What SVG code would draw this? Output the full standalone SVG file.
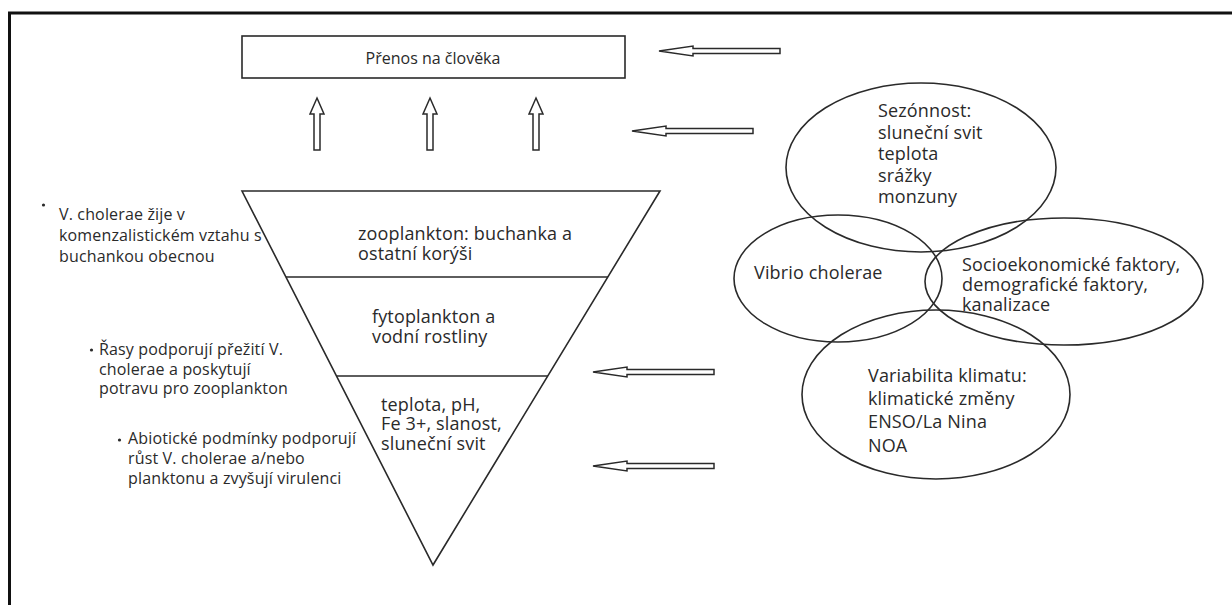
<svg xmlns="http://www.w3.org/2000/svg" xmlns:xlink="http://www.w3.org/1999/xlink" width="1232" height="605" viewBox="0 0 1232 605">
<style>
text{font-family:"Open Sans","Noto Sans","Liberation Sans",sans-serif;fill:#2a2a2a}
.big{font-size:18px;letter-spacing:0.15px}
.bul{font-size:16px;letter-spacing:0.15px}
.box{font-size:16px}
.shape{fill:none;stroke:#2a2a2a;stroke-width:1.6}
.arrow{fill:#fff;stroke:#2a2a2a;stroke-width:1.5;stroke-linejoin:miter}
</style>
<defs>
<path id="larr" d="M0,0 L34,-5 L34,-2.5 L121,-2.5 L121,2.5 L34,2.5 L34,5 Z"/>
<path id="uarr" d="M0,0 L7,16 L3,16 L3,52 L-3,52 L-3,16 L-7,16 Z"/>
</defs>
<rect width="1232" height="605" fill="#fff"/>
<g id="frame">
<path d="M8,13 H1232 M9.5,13 V605" fill="none" stroke="#111" stroke-width="3"/>
</g>
<g id="node-prenos">
<rect x="242" y="36" width="383" height="42" class="shape"/>
<text class="box" x="433" y="64" text-anchor="middle">Přenos na člověka</text>
</g>
<g id="node-pyramid">
<path d="M242,191 L660,191 L433,565 Z" class="shape"/>
<path d="M286,277 L608,277 M336.5,376 L548,376" class="shape"/>
<text class="big" x="358" y="239.5">zooplankton: buchanka a<tspan x="358" y="259.5">ostatní korýši</tspan></text>
<text class="big" x="372" y="322.5">fytoplankton a<tspan x="372" y="342.5">vodní rostliny</tspan></text>
<text class="big" x="381" y="410.5">teplota, pH,<tspan x="381" y="430">Fe 3+, slanost,</tspan><tspan x="381" y="449.5">sluneční svit</tspan></text>
</g>
<g id="node-bullet1">
<circle cx="43.5" cy="205" r="1.6" fill="#2a2a2a"/>
<text class="bul" x="59" y="220">V. cholerae žije v<tspan x="59" y="241">komenzalistickém vztahu s</tspan><tspan x="59" y="262">buchankou obecnou</tspan></text>
</g>
<g id="node-bullet2">
<circle cx="91.5" cy="350" r="1.6" fill="#2a2a2a"/>
<text class="bul" x="99" y="355">Řasy podporují přežití V.<tspan x="99" y="374.5">cholerae a poskytují</tspan><tspan x="99" y="394">potravu pro zooplankton</tspan></text>
</g>
<g id="node-bullet3">
<circle cx="119.5" cy="440" r="1.6" fill="#2a2a2a"/>
<text class="bul" x="128" y="443.5">Abiotické podmínky podporují<tspan x="128" y="463.5">růst V. cholerae a/nebo</tspan><tspan x="128" y="483.5">planktonu a zvyšují virulenci</tspan></text>
</g>
<g id="node-sezonnost">
<ellipse cx="921" cy="167.5" rx="135" ry="84.5" class="shape"/>
<text class="big" x="878" y="117">Sezónnost:<tspan x="878" y="138.5">sluneční svit</tspan><tspan x="878" y="160">teplota</tspan><tspan x="878" y="181.5">srážky</tspan><tspan x="878" y="203">monzuny</tspan></text>
</g>
<g id="node-vibrio">
<ellipse cx="838" cy="278.5" rx="104" ry="63.5" class="shape"/>
<text class="big" x="754" y="279">Vibrio cholerae</text>
</g>
<g id="node-socio">
<ellipse cx="1064" cy="281.5" rx="139" ry="63.5" class="shape"/>
<text class="big" x="962" y="271">Socioekonomické faktory,<tspan x="962" y="291">demografické faktory,</tspan><tspan x="962" y="311">kanalizace</tspan></text>
</g>
<g id="node-variabilita">
<ellipse cx="936" cy="394.5" rx="134" ry="84.5" class="shape"/>
<text class="big" x="868" y="382">Variabilita klimatu:<tspan x="868" y="405">klimatické změny</tspan><tspan x="868" y="428">ENSO/La Nina</tspan><tspan x="868" y="452">NOA</tspan></text>
</g>
<g id="connectors">
<use xlink:href="#larr" href="#larr" class="arrow" transform="translate(659,51)"/>
<use xlink:href="#larr" href="#larr" class="arrow" transform="translate(632,131)"/>
<use xlink:href="#larr" href="#larr" class="arrow" transform="translate(593,372)"/>
<use xlink:href="#larr" href="#larr" class="arrow" transform="translate(593,466)"/>
<use xlink:href="#uarr" href="#uarr" class="arrow" transform="translate(317,98)"/>
<use xlink:href="#uarr" href="#uarr" class="arrow" transform="translate(430,98)"/>
<use xlink:href="#uarr" href="#uarr" class="arrow" transform="translate(536,98)"/>
</g>
</svg>
